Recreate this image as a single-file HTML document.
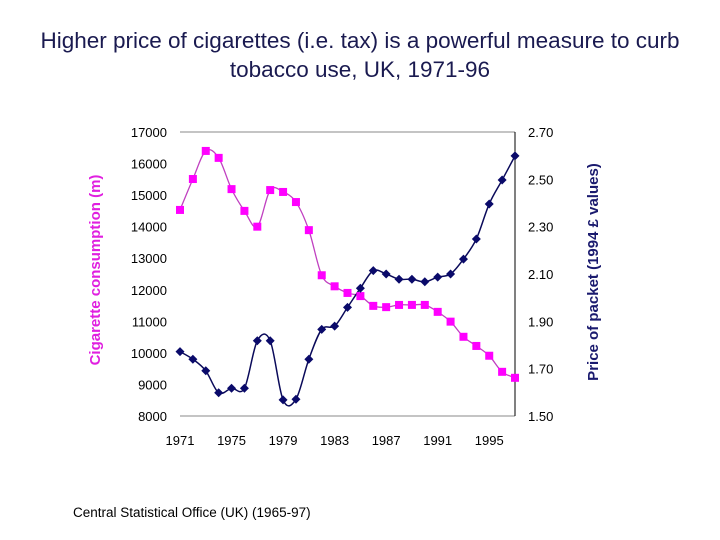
<!DOCTYPE html>
<html><head><meta charset="utf-8"><style>
body{margin:0;background:#fff;width:720px;height:540px;overflow:hidden}
svg{display:block}
text{font-family:"Liberation Sans",Arial,sans-serif}
</style></head><body>
<svg id="chart" width="720" height="540">
<text x="360" y="48" text-anchor="middle" font-size="22.5" fill="#1a1a50">Higher price of cigarettes (i.e. tax) is a powerful measure to curb</text>
<text x="360" y="77" text-anchor="middle" font-size="22.5" fill="#1a1a50">tobacco use, UK, 1971-96</text>
<line x1="180" y1="132" x2="515" y2="132" stroke="#888"/>
<line x1="180" y1="416" x2="515" y2="416" stroke="#888"/>
<line x1="515" y1="132" x2="515" y2="416" stroke="#000"/>
<text transform="translate(100,270) rotate(-90)" text-anchor="middle" font-size="15" font-weight="bold" fill="#e020e0">Cigarette consumption (m)</text>
<text transform="translate(598,272) rotate(-90)" text-anchor="middle" font-size="15" font-weight="bold" fill="#1a1a6e">Price of packet (1994 £ values)</text>
<text x="73" y="517" font-size="13.5" fill="#000">Central Statistical Office (UK) (1965-97)</text>
<g id="g"></g>
</svg>
<script>
const years=[1971,1972,1973,1974,1975,1976,1977,1978,1979,1980,1981,1982,1983,1984,1985,1986,1987,1988,1989,1990,1991,1992,1993,1994,1995,1996,1997];
const consumption=[14530,15510,16400,16180,15190,14500,14000,15160,15100,14780,13890,12460,12110,11900,11800,11490,11450,11520,11520,11520,11300,10990,10510,10220,9910,9400,9210];
const price=[1.772,1.740,1.691,1.598,1.617,1.617,1.818,1.818,1.568,1.571,1.740,1.866,1.880,1.959,2.040,2.114,2.100,2.078,2.078,2.067,2.087,2.100,2.163,2.248,2.396,2.497,2.599];
const leftTicks=[8000,9000,10000,11000,12000,13000,14000,15000,16000,17000];
const rightTicks=[1.50,1.70,1.90,2.10,2.30,2.50,2.70];
const xTicks=[1971,1975,1979,1983,1987,1991,1995];
const NS='http://www.w3.org/2000/svg';
const g=document.getElementById('g');
const X=y=>180+(y-1971)*(335/26);
const YL=v=>416-(v-8000)/9000*284;
const YR=v=>416-(v-1.5)/1.2*284;
function mk(t,a){const e=document.createElementNS(NS,t);for(const k in a)e.setAttribute(k,a[k]);g.appendChild(e);return e;}
leftTicks.forEach(v=>{const t=mk('text',{x:167,y:YL(v)+5,'text-anchor':'end','font-size':13});t.textContent=v;

});
rightTicks.forEach(v=>{const t=mk('text',{x:528,y:YR(v)+5,'font-size':13});t.textContent=v.toFixed(2);

});
xTicks.forEach(v=>{const t=mk('text',{x:X(v),y:445,'text-anchor':'middle','font-size':13});t.textContent=v;

});
function smooth(pts){let d='M'+pts[0][0]+','+pts[0][1];
for(let i=0;i<pts.length-1;i++){const p0=pts[Math.max(0,i-1)],p1=pts[i],p2=pts[i+1],p3=pts[Math.min(pts.length-1,i+2)];
const k=1/6;d+=' C'+(p1[0]+(p2[0]-p0[0])*k)+','+(p1[1]+(p2[1]-p0[1])*k)+' '+(p2[0]-(p3[0]-p1[0])*k)+','+(p2[1]-(p3[1]-p1[1])*k)+' '+p2[0]+','+p2[1];}
return d;}
const pc=years.map((y,i)=>[X(y),YL(consumption[i])]);
const pp=years.map((y,i)=>[X(y),YR(price[i])]);
const l1=mk('path',{d:smooth(pc),fill:'none',stroke:'#c040c0','stroke-width':1.3});


const l2=mk('path',{d:smooth(pp),fill:'none',stroke:'#0a0a5a','stroke-width':1.5});


pc.forEach(p=>{const r=mk('rect',{x:p[0]-4,y:p[1]-4,width:8,height:8,fill:'#ff00ff'});

});
pp.forEach(p=>{const r=mk('polygon',{points:`${p[0]},${p[1]-4.5} ${p[0]+4.5},${p[1]} ${p[0]},${p[1]+4.5} ${p[0]-4.5},${p[1]}`,fill:'#0a0a6a'});

});
</script>
</body></html>
